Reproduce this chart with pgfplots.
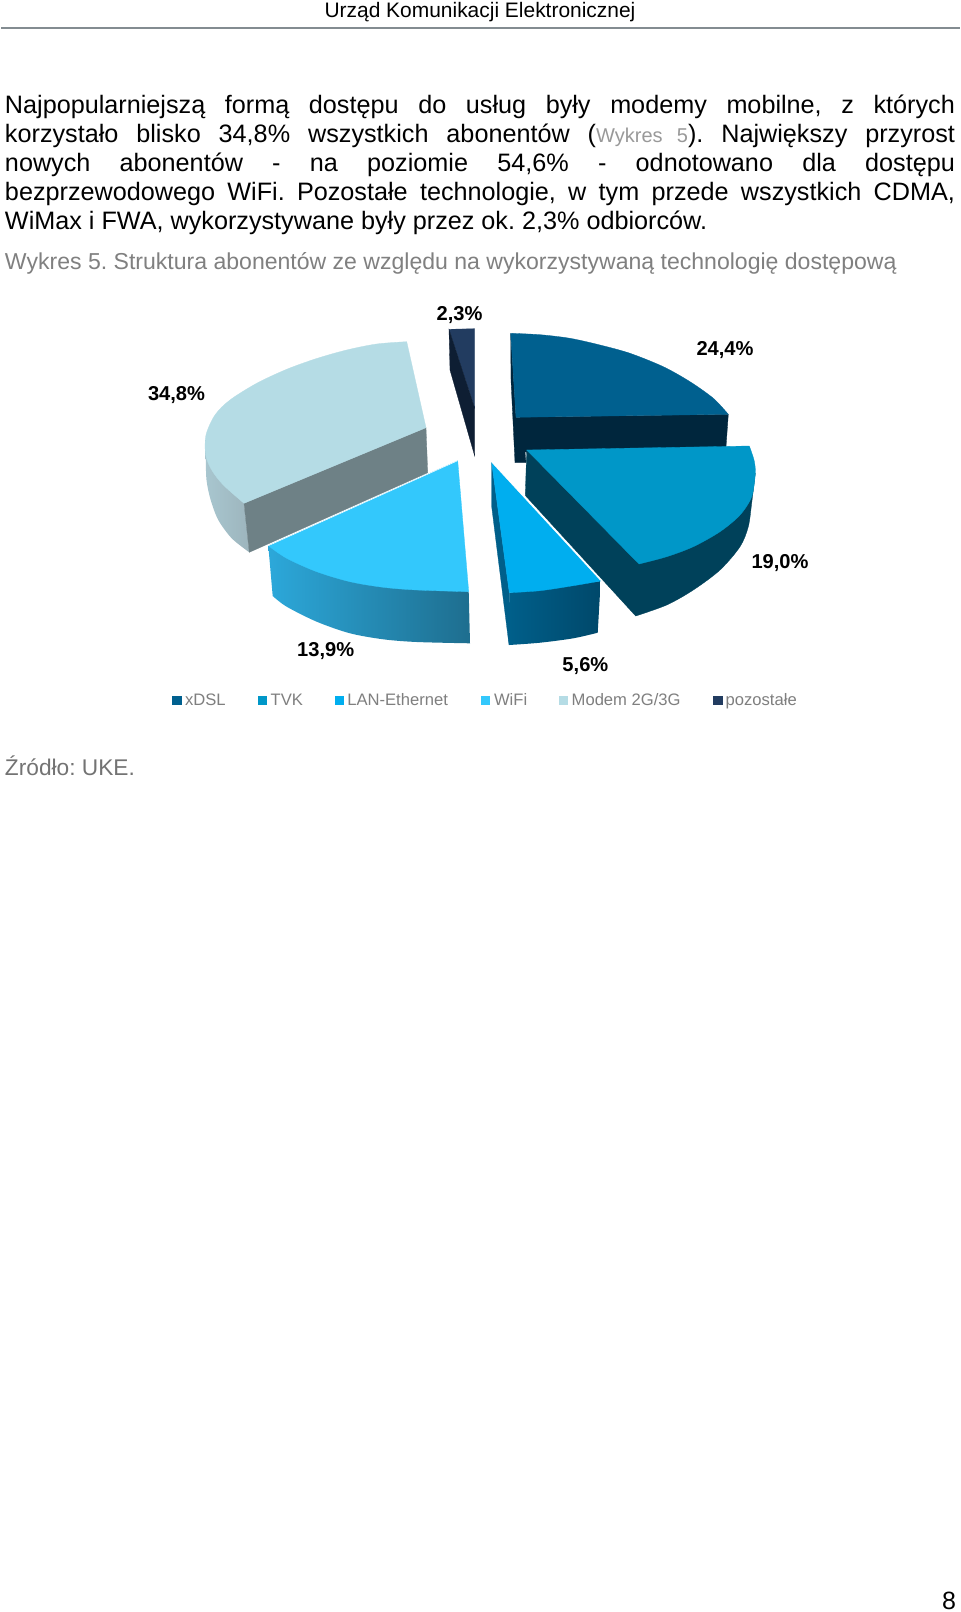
\documentclass[border=0pt]{standalone}
\usepackage{pgfplots}
\pgfplotsset{compat=1.18}
\usepackage{fontspec}
\setmainfont{Liberation Sans}
\frenchspacing
\definecolor{cxdsl}{HTML}{00608F}
\definecolor{cxdsld}{HTML}{00263D}
\definecolor{ctvk}{HTML}{0097C8}
\definecolor{ctvkd}{HTML}{00415A}
\definecolor{clan}{HTML}{00AEEF}
\definecolor{clanl}{HTML}{005F8A}
\definecolor{clanr}{HTML}{00486A}
\definecolor{cwifi}{HTML}{33C8FC}
\definecolor{cwifil}{HTML}{2CA8DA}
\definecolor{cwifir}{HTML}{1E6E8F}
\definecolor{cmod}{HTML}{B5DCE5}
\definecolor{cmodf}{HTML}{6E8186}
\definecolor{cmodl}{HTML}{A8C6CF}
\definecolor{cmodr}{HTML}{9DB5BD}
\definecolor{cpoz}{HTML}{223C60}
\definecolor{cpozd}{HTML}{0E1E33}
\definecolor{gtxt}{HTML}{7F7F7F}
\newcommand{\body}{\fontsize{25.2}{29}\selectfont}
\newcommand{\lab}{\fontsize{20.1}{22}\selectfont\bfseries}
\newcommand{\leg}{\fontsize{16.6}{20}\selectfont\color{gtxt}}
\begin{document}
\begin{tikzpicture}
\begin{axis}[
  scale only axis,
  width=960pt, height=1612pt,
  xmin=0, xmax=960, ymin=0, ymax=1612,
  y dir=reverse,
  axis lines=none,
  clip=false,
  nodes={inner sep=0pt, outer sep=0pt},
]
\fill[white] (axis cs:0,0) rectangle (axis cs:960,1612);
% header
\addplot[draw=black!45!cyan!20!gray, line width=1.4pt] coordinates {(1,28) (960,28)};
\node[anchor=base] at (axis cs:480,17) {\fontsize{20.95}{24}\selectfont Urząd Komunikacji Elektronicznej};
% body
\node[anchor=base west] at (axis cs:5,113) {\body\makebox[950pt][s]{Najpopularniejszą formą dostępu do usług były modemy mobilne, z których}};
\node[anchor=base west] at (axis cs:5,142) {\body\makebox[950pt][s]{korzystało blisko 34,8\% wszystkich abonentów ({\fontsize{20}{24}\selectfont\color{black!40}Wykres 5}). Największy przyrost}};
\node[anchor=base west] at (axis cs:5,171) {\body\makebox[950pt][s]{nowych abonentów - na poziomie 54,6\% - odnotowano dla dostępu}};
\node[anchor=base west] at (axis cs:5,200) {\body\makebox[950pt][s]{bezprzewodowego WiFi. Pozostałe technologie, w tym przede wszystkich CDMA,}};
\node[anchor=base west] at (axis cs:5,229) {\body WiMax i FWA, wykorzystywane były przez ok. 2,3\% odbiorców.};
\node[anchor=base west] at (axis cs:5,269) {\fontsize{23.05}{28}\selectfont\color{black!50} Wykres 5. Struktura abonentów ze względu na wykorzystywaną technologię dostępową};
% pozostale
\addplot[fill=cpoz, draw=cpoz, line width=.3pt] coordinates {(449,329.3) (474.7,328.7) (474.7,408.3)} --cycle;
\addplot[fill=cpozd, draw=cpozd, line width=.3pt] coordinates {(449,329.3) (474.7,408.3) (474.7,456) (450,370)} --cycle;
% Modem 2G/3G
\addplot[smooth, left color=cmodl, right color=cmodr, draw=none] coordinates {(205.7,455) (206.5,480) (210.7,500) (218.3,520) (231.7,538.3) (249.3,552.3)} -- (axis cs:244,503.3) -- (axis cs:205.7,440) --cycle;
\addplot[fill=cmodf, draw=cmodf, line width=.3pt] coordinates {(244,503.3) (426,427.7) (427.7,472.7) (249.3,552.3)} --cycle;
\addplot[smooth, fill=cmod, draw=cmod, line width=.3pt] coordinates {(406.7,341.7) (376.7,344) (346.7,350) (316.7,358.5) (286.7,369.3) (256.7,383.3) (230,400) (215,415) (206,435) (205.7,455) (211.7,470) (223.3,485) (244,503.3)} -- (axis cs:426,427.7) --cycle;
% xDSL
\addplot[fill=cxdsld, draw=cxdsld, line width=.3pt] coordinates {(510.7,333.3) (516,417.3) (728.3,414.3) (726,447) (525,452) (526,462.7) (515,462.7) (511,380)} --cycle;
\addplot[smooth, fill=cxdsl, draw=cxdsl, line width=.3pt] coordinates {(510.7,333.3) (540,334.7) (570,338.3) (600,345) (630,353.3) (663.3,366.7) (690,381.7) (713.3,398.3) (728.3,414.3)} -- (axis cs:516,417.3) --cycle;
% TVK
\addplot[smooth, fill=ctvkd, draw=ctvkd, line width=.3pt] coordinates {(635.7,616) (666.7,605) (693.3,590) (720,570) (740,546.7) (748.3,526.7) (751.7,503) (755.3,473.3)} -- (axis cs:526.7,450) -- (axis cs:525.3,495.5) --cycle;
\addplot[smooth, fill=ctvk, draw=ctvk, line width=.3pt] coordinates {(749.3,446) (754,460) (755.3,473.3) (751.7,496.7) (740,515) (720,531.7) (693.3,546.7) (666.7,556.7) (639,564)} -- (axis cs:526.7,450) --cycle;
% WiFi
\addplot[smooth, left color=cwifil, right color=cwifir, draw=none] coordinates {(272.7,596) (286.7,606.7) (316.7,621.7) (350,633.3) (383.3,639.3) (416.7,642) (470,643.3)} -- (axis cs:468.7,591.7) -- (axis cs:268.3,545.7) --cycle;
\addplot[smooth, fill=cwifi, draw=cwifi, line width=.3pt] coordinates {(268.3,545.7) (286.7,558.3) (316.7,571.7) (350,581.7) (383.3,587.3) (416.7,590) (468.7,591.7)} -- (axis cs:457.7,460.7) --cycle;
\addplot[draw=white, line width=.5pt] coordinates {(457.7,460.7) (268.3,545.7)};
% LAN-Ethernet
\addplot[fill=clanl, draw=clanl, line width=.3pt] coordinates {(491.7,462.7) (509.3,592.7) (509,645) (496.7,546.7) (491.7,506.7)} --cycle;
\addplot[smooth, left color=clanl, right color=clanr, draw=none] coordinates {(509,645) (540,642.7) (573.3,638.3) (597.7,632.7)} -- (axis cs:600.7,581) -- (axis cs:509.3,592.7) --cycle;
\addplot[smooth, fill=clan, draw=clan, line width=.3pt] coordinates {(600.7,581) (573.3,585.7) (540,590.7) (509.3,592.7)} -- (axis cs:491.7,462.7) --cycle;
\addplot[draw=white, line width=.5pt] coordinates {(492.2,462.7) (600.7,580.5)};
% value labels
\node at (axis cs:459.5,315) {\lab 2,3\%};
\node at (axis cs:725,350) {\lab 24,4\%};
\node at (axis cs:176.5,395) {\lab 34,8\%};
\node at (axis cs:780,563) {\lab 19,0\%};
\node at (axis cs:325.7,651) {\lab 13,9\%};
\node at (axis cs:585.4,666) {\lab 5,6\%};
% legend
\addplot[only marks, mark=square*, mark size=4.3pt, mark options={draw=cxdsl, fill=cxdsl}] coordinates {(176.5,700.2)};
\addplot[only marks, mark=square*, mark size=4.3pt, mark options={draw=ctvk, fill=ctvk}] coordinates {(262.2,700.2)};
\addplot[only marks, mark=square*, mark size=4.3pt, mark options={draw=clan, fill=clan}] coordinates {(339,700.2)};
\addplot[only marks, mark=square*, mark size=4.3pt, mark options={draw=cwifi, fill=cwifi}] coordinates {(485,700.2)};
\addplot[only marks, mark=square*, mark size=4.3pt, mark options={draw=cmod, fill=cmod}] coordinates {(563,700.2)};
\addplot[only marks, mark=square*, mark size=4.3pt, mark options={draw=cpoz, fill=cpoz}] coordinates {(717.5,700.2)};
\node[anchor=base west] at (axis cs:185,705.3) {\leg xDSL};
\node[anchor=base west] at (axis cs:270.7,705.3) {\leg TVK};
\node[anchor=base west] at (axis cs:347.3,705.3) {\leg LAN-Ethernet};
\node[anchor=base west] at (axis cs:494,705.3) {\leg WiFi};
\node[anchor=base west] at (axis cs:571.7,705.3) {\leg Modem 2G/3G};
\node[anchor=base west] at (axis cs:725.7,705.3) {\leg pozostałe};
% source and page number
\node[anchor=base west] at (axis cs:5,775) {\fontsize{22.7}{28}\selectfont\color{black!55} Źródło: UKE.};
\node[anchor=base east] at (axis cs:956,1609) {\fontsize{25}{28}\selectfont 8};
\end{axis}
\end{tikzpicture}
\end{document}
